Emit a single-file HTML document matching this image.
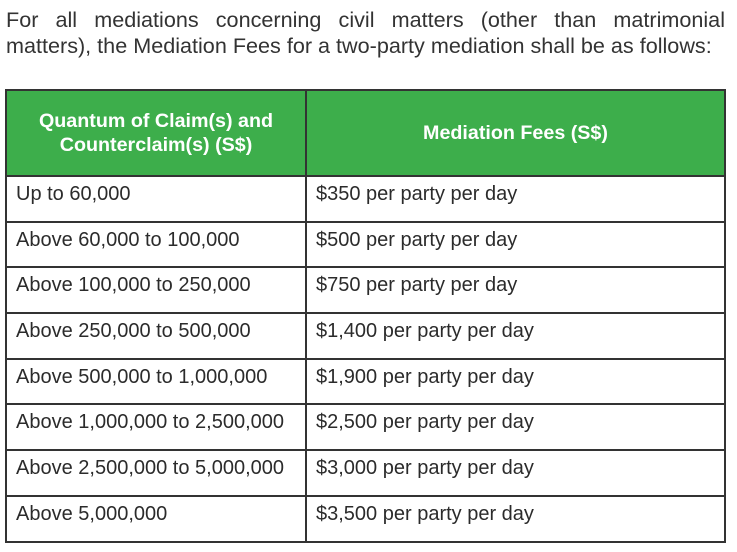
<!DOCTYPE html>
<html><head><style>
body{margin:0;width:737px;height:552px;background:#fff;font-family:"Liberation Sans",sans-serif;color:#2b2b2b;position:relative;overflow:hidden}
.p{position:absolute;left:6px;width:719px;font-size:21.6px;line-height:26px;text-align:justify;text-align-last:justify;color:#333;white-space:nowrap}
table{position:absolute;left:5px;top:89px;width:721px;border-collapse:collapse}
td,th{border:2px solid #333;padding:0;vertical-align:top}
th{background:#3dae4b;color:#fff;font-size:19.7px;font-weight:bold;height:84px;vertical-align:middle;line-height:24px}
td{height:45.7px;font-size:20px;padding-left:9px;padding-top:6px;box-sizing:border-box;white-space:nowrap}
</style></head><body>
<div class="p" style="top:7px;white-space:normal">For all mediations concerning civil matters (other than matrimonial</div>
<div class="p" style="top:33px;text-align-last:left">matters), the Mediation Fees for a two-party mediation shall be as follows:</div>
<table>
<tr><th style="width:298px">Quantum of Claim(s) and<br>Counterclaim(s) (S$)</th><th>Mediation Fees (S$)</th></tr>
<tr><td>Up to 60,000</td><td>$350 per party per day</td></tr>
<tr><td>Above 60,000 to 100,000</td><td>$500 per party per day</td></tr>
<tr><td>Above 100,000 to 250,000</td><td>$750 per party per day</td></tr>
<tr><td>Above 250,000 to 500,000</td><td>$1,400 per party per day</td></tr>
<tr><td>Above 500,000 to 1,000,000</td><td>$1,900 per party per day</td></tr>
<tr><td>Above 1,000,000 to 2,500,000</td><td>$2,500 per party per day</td></tr>
<tr><td>Above 2,500,000 to 5,000,000</td><td>$3,000 per party per day</td></tr>
<tr><td>Above 5,000,000</td><td>$3,500 per party per day</td></tr>
</table>
</body></html>
